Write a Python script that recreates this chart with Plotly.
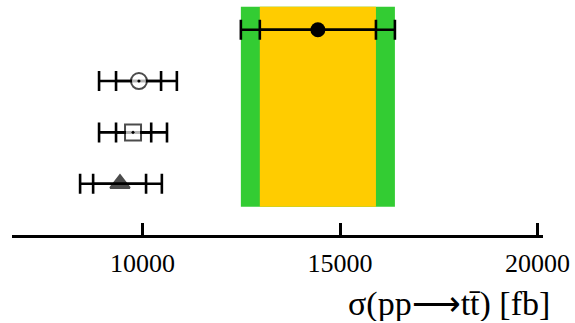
import plotly.graph_objects as go

# Measurement (top row) with inner/outer uncertainty, also shown as bands
meas_value = 14440
meas_inner = 1470
meas_outer = 1950

# Predictions (rows from top to bottom): open circle, open square, filled triangle
pred_markers = ["circle-dot", "square-dot", "triangle-up"]
pred_fill = ["white", "white", "black"]
pred_values = [9910, 9760, 9430]
pred_inner_lo = [580, 430, 680]
pred_inner_hi = [560, 460, 660]
pred_outer_lo = [1010, 860, 1010]
pred_outer_hi = [960, 860, 1060]
pred_rows = [2, 1, 0]
meas_row = 3

tick_vals = [10000, 15000, 20000]
tick_text = ["10000", "15000", "20000"]

GREEN = "#33CC33"
YELLOW = "#FFCC00"
SERIF = "Liberation Serif, Times New Roman, serif"

fig = go.Figure()

band_lo, band_hi = -0.45, 3.45
fig.add_shape(type="rect", xref="x", yref="y",
              x0=meas_value - meas_outer, x1=meas_value + meas_outer,
              y0=band_lo, y1=band_hi, fillcolor=GREEN, line_width=0, layer="below")
fig.add_shape(type="rect", xref="x", yref="y",
              x0=meas_value - meas_inner, x1=meas_value + meas_inner,
              y0=band_lo, y1=band_hi, fillcolor=YELLOW, line_width=0, layer="below")


def err(plus, minus):
    return dict(type="data", symmetric=False, array=plus, arrayminus=minus,
                color="black", thickness=2.6, width=10)


# Outer error bars
fig.add_trace(go.Scatter(
    x=[meas_value] + pred_values, y=[meas_row] + pred_rows, mode="markers",
    marker=dict(size=1, color="rgba(0,0,0,0)"),
    error_x=err([meas_outer] + pred_outer_hi, [meas_outer] + pred_outer_lo),
    hoverinfo="skip", showlegend=False))
# Inner error bars
fig.add_trace(go.Scatter(
    x=[meas_value] + pred_values, y=[meas_row] + pred_rows, mode="markers",
    marker=dict(size=1, color="rgba(0,0,0,0)"),
    error_x=err([meas_inner] + pred_inner_hi, [meas_inner] + pred_inner_lo),
    hoverinfo="skip", showlegend=False))

# Central markers
fig.add_trace(go.Scatter(
    x=[meas_value], y=[meas_row], mode="markers",
    marker=dict(symbol="circle", size=15, color="black"), showlegend=False))
fig.add_trace(go.Scatter(
    x=pred_values, y=pred_rows, mode="markers",
    marker=dict(symbol=pred_markers, size=[16, 16, 17], color=pred_fill,
                line=dict(color="black", width=2)),
    showlegend=False))

fig.add_annotation(
    text="σ(pp⟶tt̄) [fb]", xref="paper", yref="paper", x=1.016, y=-0.295,
    xanchor="right", yanchor="middle", showarrow=False, height=34,
    valign="middle", borderpad=0,
    font=dict(family=SERIF, size=34, color="black"))

fig.update_layout(
    width=575, height=323,
    margin=dict(l=12, r=32, t=0, b=88),
    plot_bgcolor="white", paper_bgcolor="white",
    xaxis=dict(range=[6696, 20139], tickvals=tick_vals, ticktext=tick_text,
               ticks="inside", ticklen=12, tickwidth=2.6, tickcolor="black",
               showline=True, linecolor="black", linewidth=2.6,
               showgrid=False, zeroline=False, ticklabelstandoff=3,
               tickfont=dict(family=SERIF, size=26, color="black")),
    yaxis=dict(range=[-1, 3.58], visible=False, showgrid=False, zeroline=False),
)

fig.write_html("out.html")
